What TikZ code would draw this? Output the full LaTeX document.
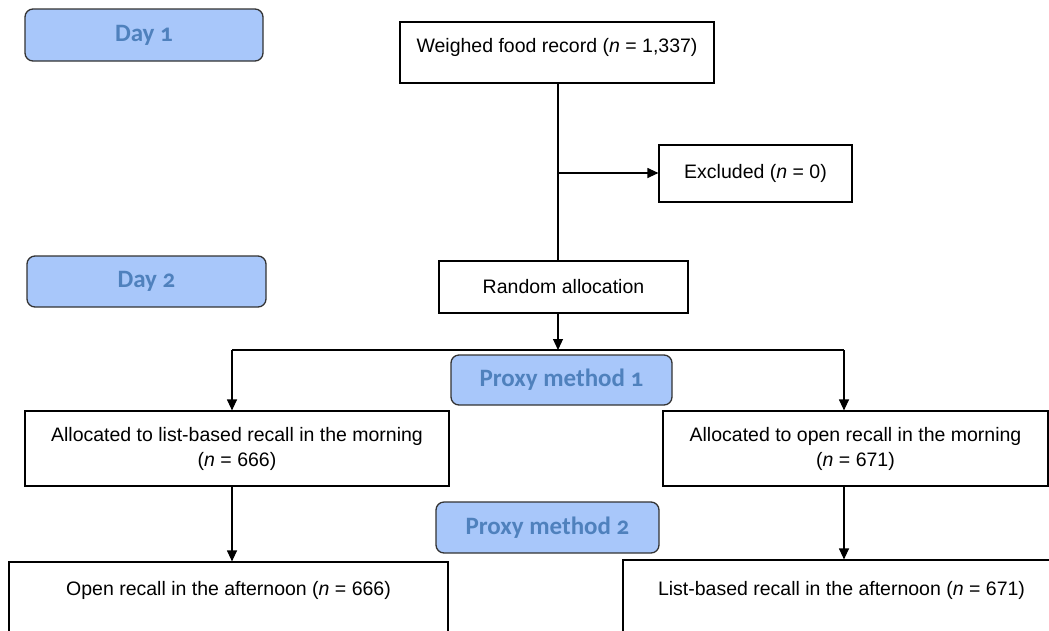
\documentclass[tikz,border=0pt]{standalone}
\usepackage{fontspec}
\setmainfont{Liberation Sans}
\newfontfamily\labelfont[Numbers=OldStyle]{Carlito}
\usetikzlibrary{arrows.meta}
\definecolor{labelfill}{RGB}{168,199,250}
\definecolor{labeltext}{RGB}{79,129,189}

\begin{document}
\begin{tikzpicture}[x=1pt, y=-1pt,
    box/.style={draw, line width=1.2pt, fill=white, align=center, inner sep=0pt,
        font=\fontsize{19.5}{25}\selectfont},
    tag/.style={draw=black!80, line width=1.3pt, fill=labelfill, rounded corners=8pt,
        text=labeltext, font=\labelfont\bfseries\fontsize{25}{29}\selectfont, inner sep=0pt},
    arr/.style={line width=1.2pt, -{Triangle[length=11pt, width=10pt]}}]
    \useasboundingbox (0,0) rectangle (1049,630);
    \clip (0,0) rectangle (1049,630);

    \coordinate (trunk) at (558,173);
    \coordinate (split) at (558,350);
    \coordinate (brL) at (232,350);
    \coordinate (brR) at (844,350);

    \node[tag, minimum width=238pt, minimum height=52pt] (day1) at (144,35) {Day 1};
    \node[tag, minimum width=239pt, minimum height=51pt] (day2) at (146.5,281.5) {Day 2};
    \node[tag, minimum width=221pt, minimum height=50pt] (proxy1) at (561.5,380) {Proxy method 1};
    \node[tag, minimum width=223pt, minimum height=51pt] (proxy2) at (547.5,527.5) {Proxy method 2};

    \node[box, minimum width=314pt, text height=15pt, text depth=16pt, inner ysep=15pt] (weighed) at (557,52.5) {Weighed food record (\textit{n} = 1,337)};
    \node[box, minimum width=193pt, minimum height=57pt] (excl) at (755.5,173.5) {Excluded (\textit{n} = 0)};
    \node[box, minimum width=249pt, minimum height=52pt] (random) at (563.5,287) {Random allocation};

    \node[box, minimum width=424pt, minimum height=75pt] (listm) at (237,448.5) {Allocated to list-based recall in the morning\\(\textit{n} = 666)};
    \node[box, minimum width=385pt, minimum height=75pt] (openm) at (855.5,448.5) {Allocated to open recall in the morning\\(\textit{n} = 671)};

    \node[box, minimum width=439pt, text height=15pt, text depth=47pt, inner ysep=18pt] (opena) at (228.5,611) {Open recall in the afternoon (\textit{n} = 666)};
    \node[box, minimum width=437pt, text height=15pt, text depth=45pt, inner ysep=20pt] (lista) at (841.5,610) {List-based recall in the afternoon (\textit{n} = 671)};

    \draw[line width=1.2pt] (weighed.south -| trunk) -- (random.north -| trunk);
    \draw[arr] (trunk) -- (excl.west |- trunk);
    \draw[arr] (random.south -| split) -- (split);
    \draw[line width=1.2pt] (brL) -- (brR);
    \draw[arr] (brL) -- (brL |- listm.north);
    \draw[arr] (brR) -- (brR |- openm.north);
    \draw[arr] (listm.south -| brL) -- (brL |- opena.north);
    \draw[arr] (openm.south -| brR) -- (brR |- lista.north);
\end{tikzpicture}
\end{document}
